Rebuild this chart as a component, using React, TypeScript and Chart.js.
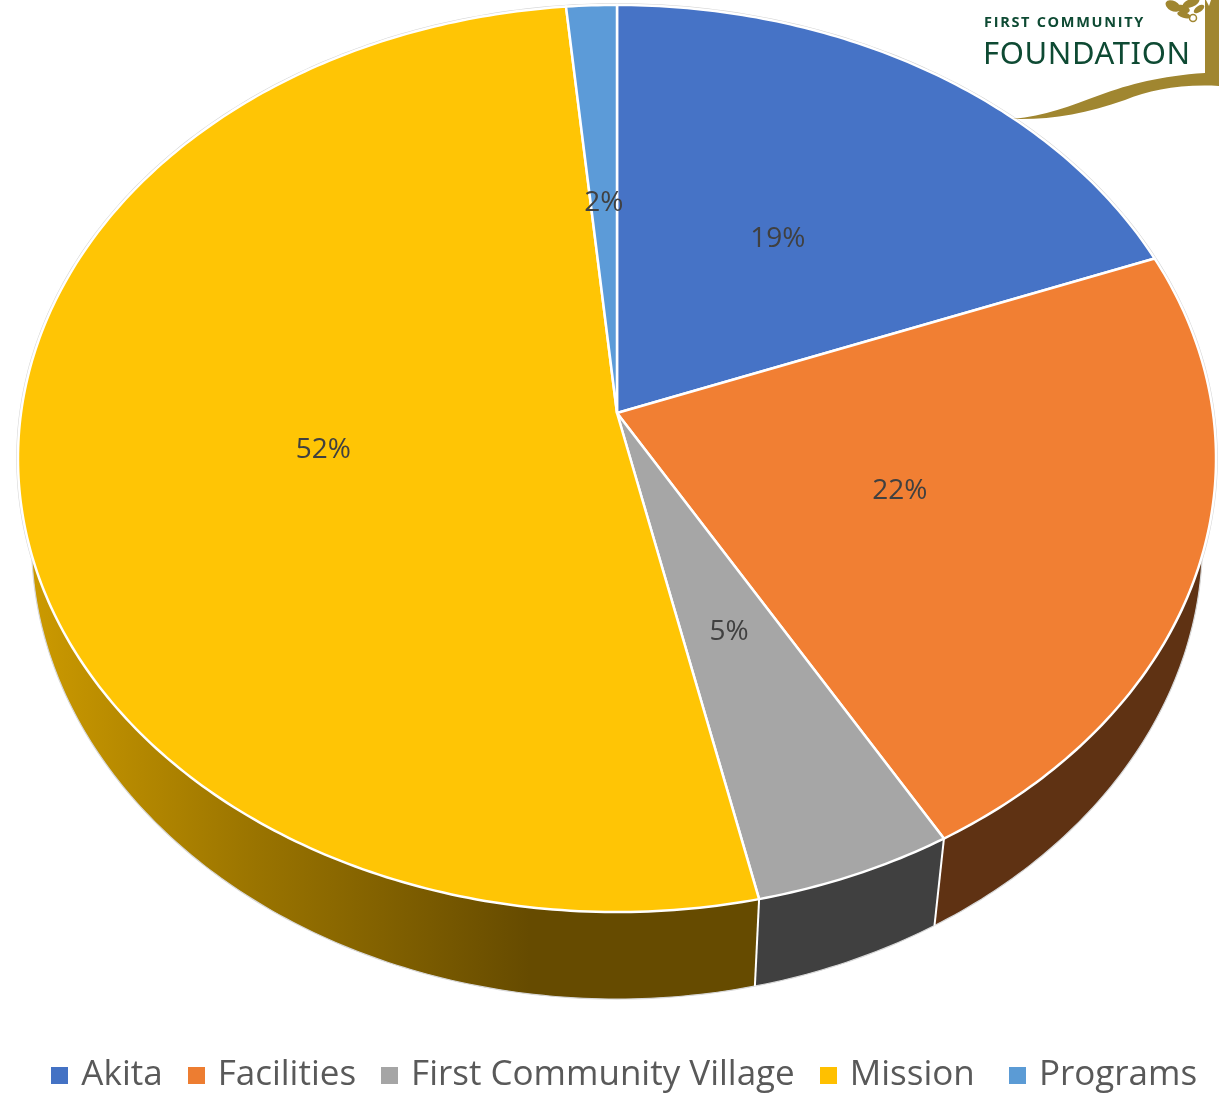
import React, { useEffect, useRef } from "react";
import { Chart, registerables } from "chart.js";

Chart.register(...registerables);

const categories = ["Akita", "Facilities", "First Community Village", "Mission ", "Programs"];
const shares = [19.2, 22.45, 4.9, 51.95, 1.5];
const legendColors = ["#4472C4", "#ED7D31", "#A5A5A5", "#FFC000", "#5B9BD5"];
const faceColors = ["#4673C6", "#F17F33", "#A6A6A6", "#FFC505", "#5C9BD8"];
const wallColors = ["#29447A", "#5F3213", "#404040", "#664B00", "#375E80"];

const CX = 617;
const CY = 413;
const A = 596;
const B = 449;
const K = -0.1003;
const DEPTH = 87;
const FONT = '"Open Sans", sans-serif';

// perspective projection of a point on the pie disc (theta clockwise from 12 o'clock)
function project(theta: number, r = 1): [number, number] {
  const u = r * Math.sin(theta);
  const v = -r * Math.cos(theta);
  const d = 1 + K * v;
  return [CX + (A * u) / d, CY + (B * v) / d];
}

function lower(p: [number, number]): [number, number] {
  const t = Math.max(0, (p[1] - CY) / 499);
  const s = 0.978 - 0.008 * t;
  return [CX + s * (p[0] - CX), p[1] + DEPTH];
}

function samples(a0: number, a1: number): number[] {
  const n = Math.max(2, Math.ceil(((a1 - a0) / (2 * Math.PI)) * 480));
  const out: number[] = [];
  for (let i = 0; i <= n; i++) out.push(a0 + ((a1 - a0) * i) / n);
  return out;
}

function swatch(color: string): HTMLCanvasElement {
  const c = document.createElement("canvas");
  c.width = 17;
  c.height = 17;
  const g = c.getContext("2d")!;
  g.fillStyle = color;
  g.fillRect(0, 0, 17, 17);
  return c;
}

const perspectivePie = {
  id: "perspectivePie",
  afterLayout(chart: any) {
    const legend = chart.legend;
    legend.top += 8;
    legend.bottom += 8;
    legend.left += 17;
    legend.right += 17;
  },
  beforeDatasetsDraw(chart: any) {
    const ctx: CanvasRenderingContext2D = chart.ctx;
    const arcs = chart.getDatasetMeta(0).data;
    const angles = arcs.map((a: any) => [a.startAngle + Math.PI / 2, a.endAngle + Math.PI / 2]);
    ctx.save();
    ctx.lineJoin = "round";

    // faint outer ring
    ctx.beginPath();
    samples(0, 2 * Math.PI).forEach((t, i) => {
      const p = project(t);
      if (i) ctx.lineTo(p[0], p[1]);
      else ctx.moveTo(p[0], p[1]);
    });
    ctx.closePath();
    ctx.strokeStyle = "#d4d4d4";
    ctx.lineWidth = 3.5;
    ctx.stroke();

    // side walls
    angles.forEach(([a0, a1]: number[], idx: number) => {
      const ts = samples(a0, a1);
      ctx.beginPath();
      ts.forEach((t, i) => {
        const p = project(t);
        if (i) ctx.lineTo(p[0], p[1]);
        else ctx.moveTo(p[0], p[1]);
      });
      [...ts].reverse().forEach((t) => {
        const p = lower(project(t));
        ctx.lineTo(p[0], p[1]);
      });
      ctx.closePath();
      if (categories[idx].startsWith("Mission")) {
        const g = ctx.createLinearGradient(30, 0, 530, 0);
        g.addColorStop(0, "#CC9A00");
        g.addColorStop(0.45, "#9A7400");
        g.addColorStop(1, wallColors[idx]);
        ctx.fillStyle = g;
      } else {
        ctx.fillStyle = wallColors[idx];
      }
      ctx.fill();
    });

    // lower rim
    ctx.beginPath();
    samples(Math.PI * 0.5, Math.PI * 1.5).forEach((t, i) => {
      const p = lower(project(t));
      if (i) ctx.lineTo(p[0], p[1]);
      else ctx.moveTo(p[0], p[1]);
    });
    ctx.strokeStyle = "#d8d8d8";
    ctx.lineWidth = 1.2;
    ctx.stroke();

    // wall edges between slices on the visible side
    angles.forEach(([a0]: number[]) => {
      const t = a0;
      if (Math.cos(t) < -0.5) {
        const p = project(t);
        const q = lower(p);
        ctx.beginPath();
        ctx.moveTo(p[0], p[1]);
        ctx.lineTo(q[0], q[1]);
        ctx.strokeStyle = "#ffffff";
        ctx.lineWidth = 2;
        ctx.stroke();
      }
    });

    // top faces
    angles.forEach(([a0, a1]: number[], idx: number) => {
      ctx.beginPath();
      ctx.moveTo(CX, CY);
      samples(a0, a1).forEach((t) => {
        const p = project(t);
        ctx.lineTo(p[0], p[1]);
      });
      ctx.closePath();
      ctx.fillStyle = faceColors[idx];
      ctx.fill();
      ctx.strokeStyle = "#ffffff";
      ctx.lineWidth = 2.5;
      ctx.stroke();
    });

    // value labels
    ctx.fillStyle = "#404040";
    ctx.font = `28px ${FONT}`;
    ctx.textAlign = "center";
    ctx.textBaseline = "middle";
    angles.forEach(([a0, a1]: number[], idx: number) => {
      const p = project((a0 + a1) / 2, 0.495);
      ctx.fillText(`${Math.round(shares[idx])}%`, p[0], p[1] + 2);
    });
    ctx.restore();
    return false;
  },
  afterDraw(chart: any) {
    const ctx: CanvasRenderingContext2D = chart.ctx;
    ctx.save();
    const gold = "#A08630";
    ctx.fillStyle = gold;
    ctx.beginPath();
    ctx.moveTo(1013, 119);
    ctx.bezierCurveTo(1045, 116, 1070, 106, 1100, 95);
    ctx.bezierCurveTo(1130, 84, 1160, 76, 1205, 73);
    ctx.lineTo(1205, 0);
    ctx.lineTo(1219, 0);
    ctx.lineTo(1219, 86);
    ctx.bezierCurveTo(1180, 84, 1150, 90, 1125, 100);
    ctx.bezierCurveTo(1085, 114, 1050, 120, 1013, 119);
    ctx.closePath();
    ctx.fill();
    [[1173, 6, 8, 5, 0.5], [1183, 9, 7, 4, 0.3], [1184, 15, 7, 3, 0.3], [1191, 3, 9, 4, -0.4], [1199, 9, 6, 3, -0.6]].forEach(([x, y, a, b, r]) => {
      ctx.beginPath();
      ctx.ellipse(x, y, a, b, r, 0, 2 * Math.PI);
      ctx.fill();
    });
    ctx.beginPath();
    ctx.arc(1193, 18, 3.5, 0, 2 * Math.PI);
    ctx.strokeStyle = gold;
    ctx.lineWidth = 1.5;
    ctx.stroke();
    ctx.fillStyle = "#ffffff";
    ctx.beginPath();
    ctx.moveTo(1206, 0);
    ctx.lineTo(1211, 0);
    ctx.lineTo(1209, 6);
    ctx.closePath();
    ctx.fill();

    ctx.fillStyle = "#0E4A33";
    ctx.textAlign = "left";
    ctx.textBaseline = "alphabetic";
    ctx.font = `700 14.5px ${FONT}`;
    (ctx as any).letterSpacing = "1.7px";
    ctx.fillText("FIRST COMMUNITY", 984, 27);
    ctx.font = `400 31px "Noto Sans", sans-serif`;
    (ctx as any).letterSpacing = "0.6px";
    ctx.fillText("FOUNDATION", 983, 64);
    ctx.restore();
  },
};

export default function App() {
  const ref = useRef<HTMLCanvasElement>(null);
  useEffect(() => {
    const chart = new Chart(ref.current!, {
      type: "pie",
      data: {
        labels: categories,
        datasets: [{ data: shares, backgroundColor: legendColors, borderColor: "#ffffff", borderWidth: 2 }],
      },
      options: {
        responsive: false,
        animation: false,
        plugins: {
          tooltip: { enabled: false },
          legend: {
            position: "bottom",
            labels: {
              usePointStyle: true,
              pointStyleWidth: 8,
              padding: 29.5,
              color: "#595959",
              font: { family: FONT, size: 35 },
              generateLabels: () =>
                categories.map((text, i) => ({
                  text,
                  fillStyle: legendColors[i],
                  strokeStyle: legendColors[i],
                  lineWidth: 0,
                  pointStyle: swatch(legendColors[i]),
                  fontColor: "#595959",
                  index: i,
                })),
            },
          },
        },
      },
      plugins: [perspectivePie],
    } as any);
    return () => chart.destroy();
  }, []);
  return (
    <canvas
      ref={ref}
      width={1219}
      height={1095}
      style={{ position: "absolute", left: 0, top: 0, display: "block" }}
    />
  );
}
